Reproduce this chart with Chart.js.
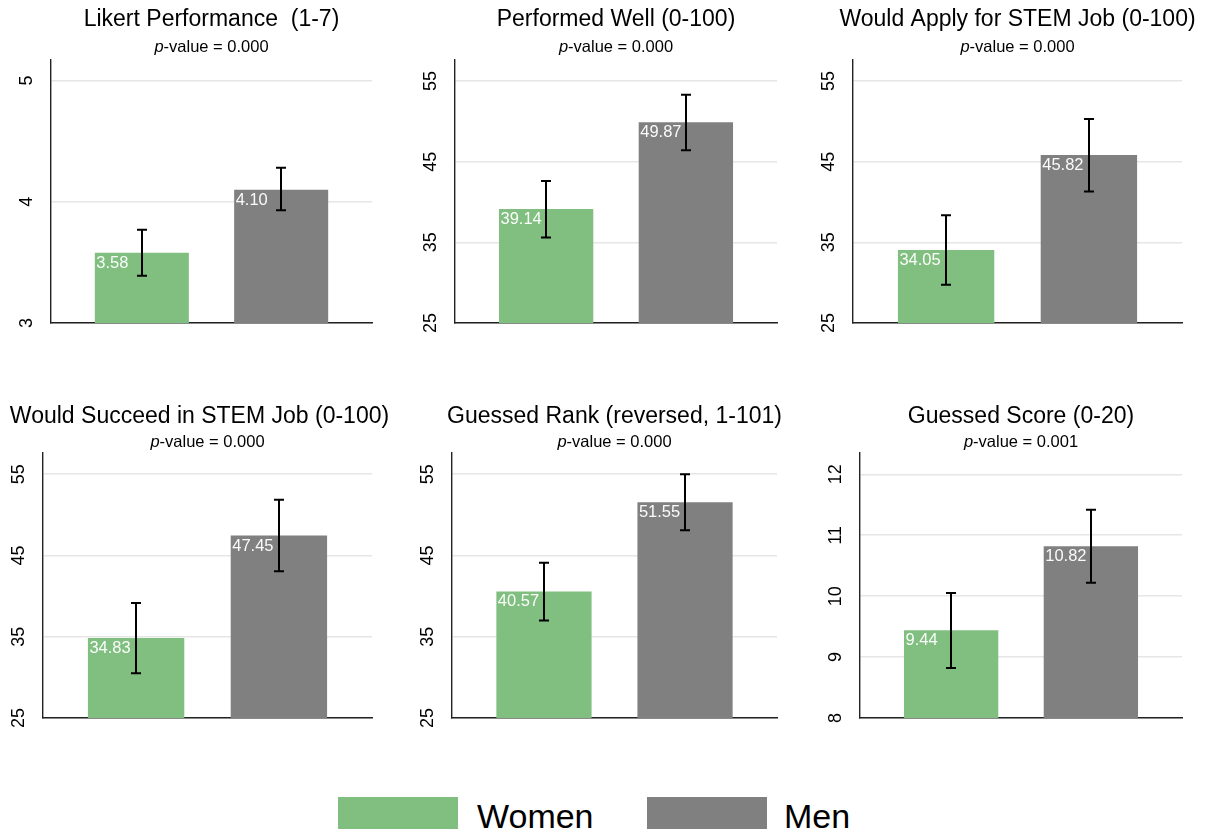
<!DOCTYPE html>
<html>
<head>
<meta charset="utf-8">
<script src="https://cdn.jsdelivr.net/npm/chart.js@4/dist/chart.umd.min.js"></script>
<style>
  html, body { margin: 0; padding: 0; background: #fff; overflow: hidden; }
  body { width: 1209px; height: 831px; position: relative; font-family: 'Liberation Sans', Arial, Helvetica, sans-serif; }
  canvas { position: absolute; }
  .lg-box { position: absolute; width: 120px; height: 32px; }
  .lg-text { position: absolute; font-size: 34px; line-height: 34px; color: #000; white-space: nowrap; }
</style>
</head>
<body>
<script>
// ---- data ----
const categories = ['Women', 'Men'];
const panelTitles = [
  'Likert Performance  (1-7)',
  'Performed Well (0-100)',
  'Would Apply for STEM Job (0-100)',
  'Would Succeed in STEM Job (0-100)',
  'Guessed Rank (reversed, 1-101)',
  'Guessed Score (0-20)'
];
const pValues = ['0.000', '0.000', '0.000', '0.000', '0.000', '0.001'];
const womenMeans = [3.58, 39.14, 34.05, 34.83, 40.57, 9.44];
const menMeans   = [4.10, 49.87, 45.82, 47.45, 51.55, 10.82];
const womenLow   = [3.39, 35.60, 29.75, 30.50, 37.00, 8.82];
const womenHigh  = [3.77, 42.60, 38.35, 39.15, 44.10, 10.05];
const menLow     = [3.93, 46.40, 41.30, 43.05, 48.10, 10.22];
const menHigh    = [4.28, 53.30, 50.30, 51.85, 55.00, 11.42];
const yTicks = [
  [3, 4, 5],
  [25, 35, 45, 55],
  [25, 35, 45, 55],
  [25, 35, 45, 55],
  [25, 35, 45, 55],
  [8, 9, 10, 11, 12]
];
const yMin = [3, 25, 25, 25, 25, 8];
const yMax = [5.17, 57.6, 57.6, 57.6, 57.6, 12.35];

// ---- styling / layout ----
const FONT = "'Liberation Sans', Arial, Helvetica, sans-serif";
const GREEN = '#80bf80';
const GRAY = '#808080';
// plot rectangles [left, top, right, bottom] in page pixels
const plotRects = [
  [51, 60, 372, 323], [455, 60, 777, 323], [853, 60, 1182, 323],
  [43, 453, 372, 718], [452, 453, 777, 718], [860, 453, 1182, 718]
];
const rowTop = [0, 390];
const titleBase = [26, 423];
const subBase = [52, 446.5];
const titleShift = [0, 0, 0, -8, 0, 0];
const AXIS_W = 40, PAD_R = 30, PAD_B = 30;

Chart.defaults.font.family = FONT;
Chart.defaults.color = '#000';

const panelDecor = {
  id: 'panelDecor',
  afterDatasetsDraw(chart, args, opts) {
    const p = opts.panel;
    const ctx = chart.ctx;
    const ys = chart.scales.y;
    const meta = chart.getDatasetMeta(0);
    const means = [womenMeans[p], menMeans[p]];
    const lows = [womenLow[p], menLow[p]];
    const highs = [womenHigh[p], menHigh[p]];
    ctx.save();
    // value labels inside the top-left corner of each bar
    ctx.font = '16.5px ' + FONT;
    ctx.fillStyle = 'rgba(255,255,255,0.96)';
    ctx.textAlign = 'left';
    ctx.textBaseline = 'alphabetic';
    meta.data.forEach((bar, i) => {
      const b = bar.getProps(['x', 'y', 'width'], true);
      ctx.fillText(means[i].toFixed(2), b.x - b.width / 2 + 1.5, b.y + 15);
    });
    // confidence intervals
    ctx.strokeStyle = '#000';
    ctx.lineWidth = 2;
    meta.data.forEach((bar, i) => {
      const b = bar.getProps(['x'], true);
      const x = Math.round(b.x);
      const yl = ys.getPixelForValue(lows[i]);
      const yh = ys.getPixelForValue(highs[i]);
      ctx.beginPath();
      ctx.moveTo(x, yl); ctx.lineTo(x, yh);
      ctx.moveTo(x - 5, yl); ctx.lineTo(x + 5, yl);
      ctx.moveTo(x - 5, yh); ctx.lineTo(x + 5, yh);
      ctx.stroke();
    });
    ctx.restore();
  },
  afterDraw(chart, args, opts) {
    const p = opts.panel;
    const row = p < 3 ? 0 : 1;
    const ctx = chart.ctx;
    const ca = chart.chartArea;
    const cx = (ca.left + ca.right) / 2;
    ctx.save();
    ctx.fillStyle = '#000';
    ctx.textBaseline = 'alphabetic';
    ctx.font = '23px ' + FONT;
    ctx.textAlign = 'center';
    ctx.fillText(panelTitles[p], cx + titleShift[p], titleBase[row] - rowTop[row]);
    // subtitle with italic p
    const italic = 'italic 16.5px ' + FONT;
    const normal = '16.5px ' + FONT;
    const rest = '-value = ' + pValues[p];
    ctx.font = italic; const w1 = ctx.measureText('p').width;
    ctx.font = normal; const w2 = ctx.measureText(rest).width;
    const x0 = cx - (w1 + w2) / 2;
    const yb = subBase[row] - rowTop[row];
    ctx.textAlign = 'left';
    ctx.font = italic; ctx.fillText('p', x0, yb);
    ctx.font = normal; ctx.fillText(rest, x0 + w1, yb);
    ctx.restore();
  }
};

plotRects.forEach((r, p) => {
  const row = p < 3 ? 0 : 1;
  const [L, T, R, B] = r;
  const cv = document.createElement('canvas');
  const left = L - AXIS_W, top = rowTop[row];
  const w = (R - L) + AXIS_W + PAD_R;
  const h = (B - top) + PAD_B;
  cv.width = w; cv.height = h;
  cv.style.left = left + 'px'; cv.style.top = top + 'px';
  cv.style.width = w + 'px'; cv.style.height = h + 'px';
  document.body.appendChild(cv);

  const maxDigits = Math.max(...yTicks[p].map(v => String(v).length));
  new Chart(cv, {
    type: 'bar',
    data: {
      datasets: [{
        label: panelTitles[p],
        data: [womenMeans[p], menMeans[p]].map((v, i) => ({ x: i, y: v })),
        backgroundColor: [GREEN, GRAY],
        borderWidth: 0,
        barPercentage: 0.675,
        categoryPercentage: 1
      }]
    },
    options: {
      responsive: false,
      animation: false,
      devicePixelRatio: 1,
      layout: { padding: { top: T - top, right: PAD_R, bottom: PAD_B, left: 0 } },
      plugins: {
        legend: { display: false },
        tooltip: { enabled: false },
        panelDecor: { panel: p }
      },
      scales: {
        x: {
          type: 'linear',
          offset: false,
          min: -0.652,
          max: 1.652,
          afterBuildTicks: s => { s.ticks = categories.map((c, i) => ({ value: i })); },
          afterFit: s => { s.height = 0; s.paddingLeft = 0; s.paddingRight = 0; },
          ticks: { display: false },
          grid: { display: false, drawTicks: false, offset: false },
          border: { display: true, color: '#222', width: 1.4 }
        },
        y: {
          type: 'linear',
          min: yMin[p],
          max: yMax[p],
          afterBuildTicks: s => { s.ticks = yTicks[p].map(v => ({ value: v })); },
          afterFit: s => { s.width = AXIS_W; s.paddingTop = 0; s.paddingBottom = 0; },
          grid: { color: '#e6e6e6', lineWidth: 1.5, drawTicks: false },
          border: { display: true, color: '#222', width: 1.4 },
          ticks: {
            minRotation: 90,
            maxRotation: 90,
            crossAlign: 'center',
            padding: 24 - 5 * maxDigits,
            color: '#000',
            font: { size: 18, family: FONT },
            callback: v => String(v)
          }
        }
      }
    },
    plugins: [panelDecor]
  });
});

// legend
const legendItems = [
  { name: categories[0], color: GREEN, box: 338, text: 477 },
  { name: categories[1], color: GRAY, box: 647, text: 784 }
];
legendItems.forEach(it => {
  const b = document.createElement('div');
  b.className = 'lg-box';
  b.style.left = it.box + 'px'; b.style.top = '797px'; b.style.background = it.color;
  document.body.appendChild(b);
  const t = document.createElement('div');
  t.className = 'lg-text';
  t.style.left = it.text + 'px'; t.style.top = '799px';
  t.textContent = it.name;
  document.body.appendChild(t);
});
</script>
</body>
</html>
